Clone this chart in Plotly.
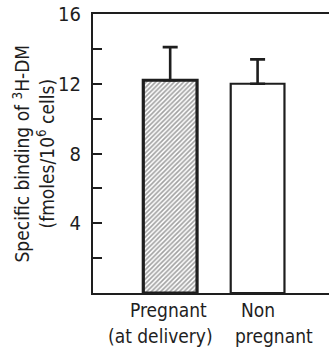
import plotly.graph_objects as go

categories = ["Pregnant (at delivery)", "Non pregnant"]
values = [12.2, 12.0]
errors_up = [1.9, 1.4]
label_lines = [["Pregnant", "(at delivery)"], ["Non", "pregnant"]]
y_tick_vals = [2, 4, 6, 8, 10, 12, 14, 16]
y_tick_text = ["", "4", "", "8", "", "12", "", "16"]
y_title = "Specific binding of <sup>3</sup>H-DM<br>(fmoles/10<sup>6</sup> cells)"

FONT = "Liberation Sans Narrow, DejaVu Sans Condensed, Arial Narrow, sans-serif"
INK = "#1e1e1e"

xpos = list(range(len(categories)))

fig = go.Figure()
fig.add_trace(go.Bar(
    x=xpos, y=values, width=0.615,
    marker=dict(
        color=["white", "white"],
        line=dict(color=INK, width=[3.2, 2.2]),
        pattern=dict(shape=["/", ""], size=3.3, solidity=0.5, fgcolor="#333333", bgcolor="white"),
    ),
    error_y=dict(type="data", array=errors_up, arrayminus=[0, 0], symmetric=False,
                 color=INK, thickness=2.6, width=7.5),
    showlegend=False,
))

# category labels (line by line)
line_shifts = [[-2, -10], [0, 16]]
for i, lines in enumerate(label_lines):
    for j, txt in enumerate(lines):
        fig.add_annotation(x=xpos[i], y=0, xref="x", yref="y", text=txt, showarrow=False,
                           yanchor="top", yshift=-4 - 26 * j, xshift=line_shifts[i][j],
                           font=dict(family=FONT, size=19, color=INK))

fig.add_annotation(x=0, y=0.5, xref="paper", yref="paper", text=y_title, showarrow=False,
                   textangle=-90, xanchor="center", yanchor="middle", xshift=-59,
                   font=dict(family=FONT, size=19, color=INK))

fig.update_layout(
    width=329, height=349,
    margin=dict(l=93, r=0, t=14, b=56),
    paper_bgcolor="white", plot_bgcolor="white",
    font=dict(family=FONT, size=19, color=INK),
    xaxis=dict(range=[-0.883, 1.817], showticklabels=False, ticks="", showgrid=False,
               zeroline=False, showline=True, linecolor=INK, linewidth=2, mirror=True),
    yaxis=dict(range=[0, 16], tickvals=y_tick_vals, ticktext=y_tick_text, ticks="inside",
               ticklen=9, tickwidth=1.6, tickcolor=INK, showgrid=False, zeroline=False,
               showline=True, linecolor=INK, linewidth=2, ticklabelstandoff=6,
               tickfont=dict(family=FONT, size=20, color=INK)),
)

fig.write_html("out.html", config={"displayModeBar": False},
               post_script="document.body.style.margin='0';document.body.style.padding='0';")
